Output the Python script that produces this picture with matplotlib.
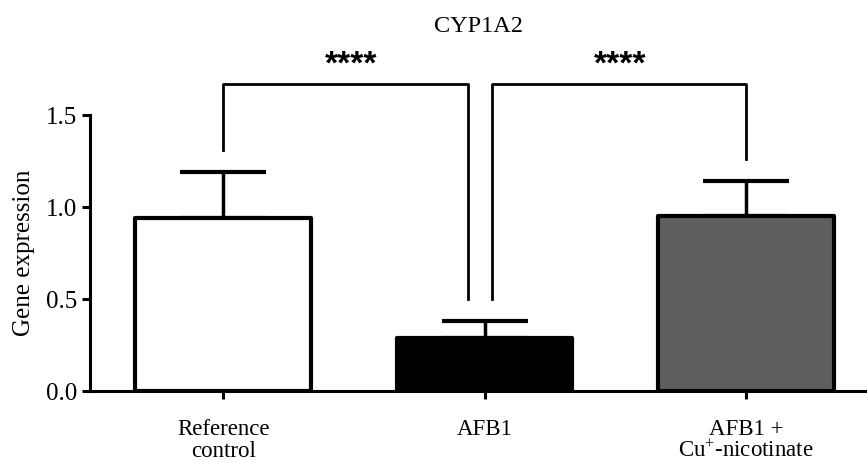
import matplotlib
matplotlib.use("Agg")
import matplotlib.pyplot as plt

groups = ["Reference\ncontrol", "AFB1", "AFB1 +\nCu$^{+}$-nicotinate"]
means = [0.94, 0.29, 0.95]
errors = [0.25, 0.09, 0.19]
colors = ["white", "black", "#5f5f5f"]

# significance brackets: (x_left, x_right, y_top, left_drop, right_drop, star_x)
brackets = [
    (0.0, 0.937, 1.668, 1.31, 0.50, 0.49),
    (1.029, 2.0, 1.668, 0.50, 1.26, 1.52),
]
stars = "****"

plt.rcParams["font.family"] = "Liberation Serif"
plt.rcParams["mathtext.fontset"] = "custom"
plt.rcParams["mathtext.rm"] = "Liberation Serif"
plt.rcParams["mathtext.it"] = "Liberation Serif:italic"

fig = plt.figure(figsize=(8.67, 4.63), dpi=100)
ax = fig.add_axes([90 / 867, 1 - 391 / 463, 777 / 867, (391 - 115) / 463])

x = list(range(len(groups)))
ax.bar(x, means, width=0.67, color=colors, edgecolor="black", linewidth=3,
       joinstyle="round", zorder=2)
ax.errorbar(x, means, yerr=[[0] * len(errors), errors], fmt="none",
            ecolor="black", elinewidth=2.5, capsize=31, capthick=3, zorder=1)

for xl, xr, yt, dl, dr, sx in brackets:
    ax.plot([xl, xl, xr, xr], [dl, yt, yt, dr], color="black", lw=2,
            clip_on=False, solid_joinstyle="round")
    ax.text(sx, 1.77, stars, ha="center", va="center", fontsize=24,
            fontweight="bold", family="Liberation Sans")

ax.set_xlim(-0.509, 2.463)
ax.set_ylim(0, 1.5)
ax.set_yticks([0.0, 0.5, 1.0, 1.5])
ax.set_yticklabels(["0.0", "0.5", "1.0", "1.5"])
ax.set_xticks(x)
ax.set_xticklabels(groups, linespacing=1.05)

for side in ["top", "right"]:
    ax.spines[side].set_visible(False)
ax.spines["left"].set_linewidth(2.2)
ax.spines["bottom"].set_linewidth(2.2)
ax.tick_params(axis="both", width=2.2, length=6, pad=3)
ax.tick_params(axis="y", labelsize=18)
ax.tick_params(axis="x", labelsize=16.5, pad=14)

ax.set_ylabel("Gene expression", fontsize=18, labelpad=8)
fig.text(478 / 867, 1 - 26 / 463, "CYP1A2", ha="center", va="center",
         fontsize=17.5)

plt.savefig("out.png", dpi=100)
plt.close()
